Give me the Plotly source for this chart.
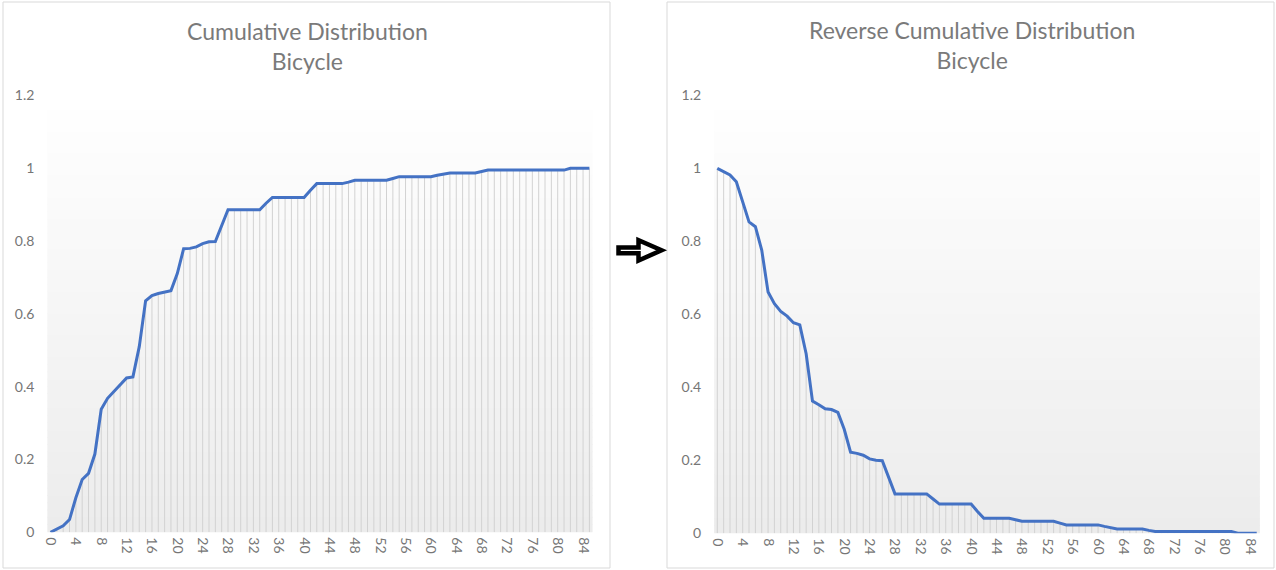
import plotly.graph_objects as go

# ---------------- data ----------------
minutes = [0, 1, 2, 3, 4, 5, 6, 7, 8, 9, 10, 11, 12, 13, 14, 15, 16, 17, 18, 19,
           20, 21, 22, 23, 24, 25, 26, 27, 28, 29, 30, 31, 32, 33, 34, 35, 36, 37, 38, 39,
           40, 41, 42, 43, 44, 45, 46, 47, 48, 49, 50, 51, 52, 53, 54, 55, 56, 57, 58, 59,
           60, 61, 62, 63, 64, 65, 66, 67, 68, 69, 70, 71, 72, 73, 74, 75, 76, 77, 78, 79,
           80, 81, 82, 83, 84, 85]

cumulative = [0.0, 0.01, 0.018, 0.035, 0.095, 0.145, 0.162, 0.215, 0.338, 0.368,
              0.386, 0.404, 0.424, 0.427, 0.51, 0.636, 0.65, 0.656, 0.659, 0.664,
              0.711, 0.779, 0.78, 0.784, 0.793, 0.798, 0.799, 0.845, 0.886, 0.886,
              0.886, 0.886, 0.886, 0.886, 0.904, 0.92, 0.92, 0.92, 0.92, 0.92,
              0.92, 0.94, 0.958, 0.958, 0.958, 0.958, 0.958, 0.962, 0.967, 0.967,
              0.967, 0.967, 0.967, 0.967, 0.972, 0.977, 0.977, 0.977, 0.977, 0.977,
              0.977, 0.981, 0.984, 0.987, 0.987, 0.987, 0.987, 0.987, 0.991, 0.995,
              0.995, 0.995, 0.995, 0.995, 0.995, 0.995, 0.995, 0.995, 0.995, 0.995,
              0.995, 0.995, 1.0, 1.0, 1.0, 1.0]

reverse_cumulative = [1.0, 0.99, 0.982, 0.963, 0.905, 0.853, 0.84, 0.776, 0.661, 0.629,
                      0.608, 0.595, 0.577, 0.571, 0.492, 0.362, 0.352, 0.341, 0.339, 0.331,
                      0.285, 0.222, 0.219, 0.214, 0.204, 0.2, 0.199, 0.155, 0.108, 0.108,
                      0.108, 0.108, 0.108, 0.108, 0.094, 0.08, 0.08, 0.08, 0.08, 0.08,
                      0.08, 0.06, 0.041, 0.041, 0.041, 0.041, 0.041, 0.037, 0.033, 0.033,
                      0.033, 0.033, 0.033, 0.033, 0.028, 0.023, 0.023, 0.023, 0.023, 0.023,
                      0.023, 0.019, 0.015, 0.012, 0.012, 0.012, 0.012, 0.012, 0.008, 0.005,
                      0.005, 0.005, 0.005, 0.005, 0.005, 0.005, 0.005, 0.005, 0.005, 0.005,
                      0.005, 0.005, 0.0, 0.0, 0.0, 0.0]

x_tick_values = [0, 4, 8, 12, 16, 20, 24, 28, 32, 36, 40, 44, 48, 52, 56, 60, 64, 68, 72, 76, 80, 84]
x_tick_labels = ["0", "4", "8", "12", "16", "20", "24", "28", "32", "36", "40", "44",
                 "48", "52", "56", "60", "64", "68", "72", "76", "80", "84"]

title_left = "Cumulative Distribution<br>Bicycle"
title_right = "Reverse Cumulative Distribution<br>Bicycle"

# ---------------- style / layout helpers ----------------
W, H = 1276, 570
FONT = "Lato"
LINE_COLOR = "#4472C4"
DROP_COLOR = "#d2d2d2"
TICK_COLOR = "#767676"
TITLE_COLOR = "#7a7a7a"


def px(x):
    return x / W


def py(y):
    return 1 - y / H


def drop_lines(xs, ys):
    dx, dy = [], []
    for a, b in zip(xs, ys):
        dx += [a, a, None]
        dy += [0, b, None]
    return dx, dy


fig = go.Figure()

for (vals, xa, ya) in [(cumulative, "x", "y"), (reverse_cumulative, "x2", "y2")]:
    dx, dy = drop_lines(minutes, vals)
    fig.add_trace(go.Scatter(x=dx, y=dy, mode="lines", xaxis=xa, yaxis=ya,
                             line=dict(color=DROP_COLOR, width=1),
                             hoverinfo="skip", showlegend=False))
    fig.add_trace(go.Scatter(x=minutes, y=vals, mode="lines", xaxis=xa, yaxis=ya,
                             line=dict(color=LINE_COLOR, width=3),
                             showlegend=False))

xaxis_common = dict(range=[-0.5, 85.5], tickmode="array", tickvals=x_tick_values,
                    ticktext=x_tick_labels, tickangle=90, showgrid=False, zeroline=False,
                    showline=False, ticks="", ticklabelstandoff=4, automargin=False,
                    tickfont=dict(family=FONT, size=14, color=TICK_COLOR), fixedrange=True)
yaxis_common = dict(range=[0, 1.2], tick0=0, dtick=0.2, showgrid=False, zeroline=False,
                    showline=False, ticks="", ticklabelstandoff=12, automargin=False,
                    tickfont=dict(family=FONT, size=14, color=TICK_COLOR), fixedrange=True)

left_dom = [px(47.33), px(592.57)]
right_dom = [px(714.13), px(1259.89)]
left_ydom = [py(532.3), py(95.5)]
right_ydom = [py(533.3), py(95.3)]

fig.update_layout(
    width=W, height=H, autosize=False,
    margin=dict(l=0, r=0, t=0, b=0, pad=0),
    paper_bgcolor="white", plot_bgcolor="white",
    showlegend=False,
    font=dict(family=FONT, color=TICK_COLOR),
    xaxis=dict(domain=left_dom, anchor="y", **xaxis_common),
    yaxis=dict(domain=left_ydom, anchor="x", **yaxis_common),
    xaxis2=dict(domain=right_dom, anchor="y2", **xaxis_common),
    yaxis2=dict(domain=right_ydom, anchor="x2", **yaxis_common),
)

shapes = []
# gradient plot-area fills
N = 60
for xr, yr in [("x domain", "y domain"), ("x2 domain", "y2 domain")]:
    for k in range(N):
        t = (k + 0.5) / N  # 0 bottom -> 1 top
        c = int(round(236 + (255 - 236) * t))
        shapes.append(dict(type="rect", xref=xr, yref=yr, x0=0, x1=1,
                           y0=k / N, y1=(k + 1) / N + 0.002, layer="below",
                           line=dict(width=0), fillcolor=f"rgb({c},{c},{c})"))

# chart-area borders
for (x0, x1) in [(3, 610), (667, 1274)]:
    shapes.append(dict(type="rect", xref="paper", yref="paper",
                       x0=px(x0), x1=px(x1), y0=py(568), y1=py(2),
                       line=dict(color="#d9d9d9", width=1), fillcolor="rgba(0,0,0,0)"))

# arrow between the charts
pts = [(618.5, 247.4), (638.5, 247.4), (638.5, 240.3), (661.5, 250.3),
       (638.5, 260.5), (638.5, 253.2), (618.5, 253.2)]
path = "M " + " L ".join(f"{px(a):.5f},{py(b):.5f}" for a, b in pts) + " Z"
shapes.append(dict(type="path", xref="paper", yref="paper", path=path,
                   line=dict(color="black", width=4.5), fillcolor="white"))

fig.update_layout(shapes=shapes)

fig.add_annotation(text=title_left, xref="paper", yref="paper", x=px(307), y=py(46),
                   xanchor="center", yanchor="middle", showarrow=False,
                   font=dict(family=FONT, size=23, color=TITLE_COLOR))
fig.add_annotation(text=title_right, xref="paper", yref="paper", x=px(972), y=py(45),
                   xanchor="center", yanchor="middle", showarrow=False,
                   font=dict(family=FONT, size=23, color=TITLE_COLOR))

fig.write_html("out.html",
               post_script="document.body.style.margin='0';document.body.style.overflow='hidden';")
